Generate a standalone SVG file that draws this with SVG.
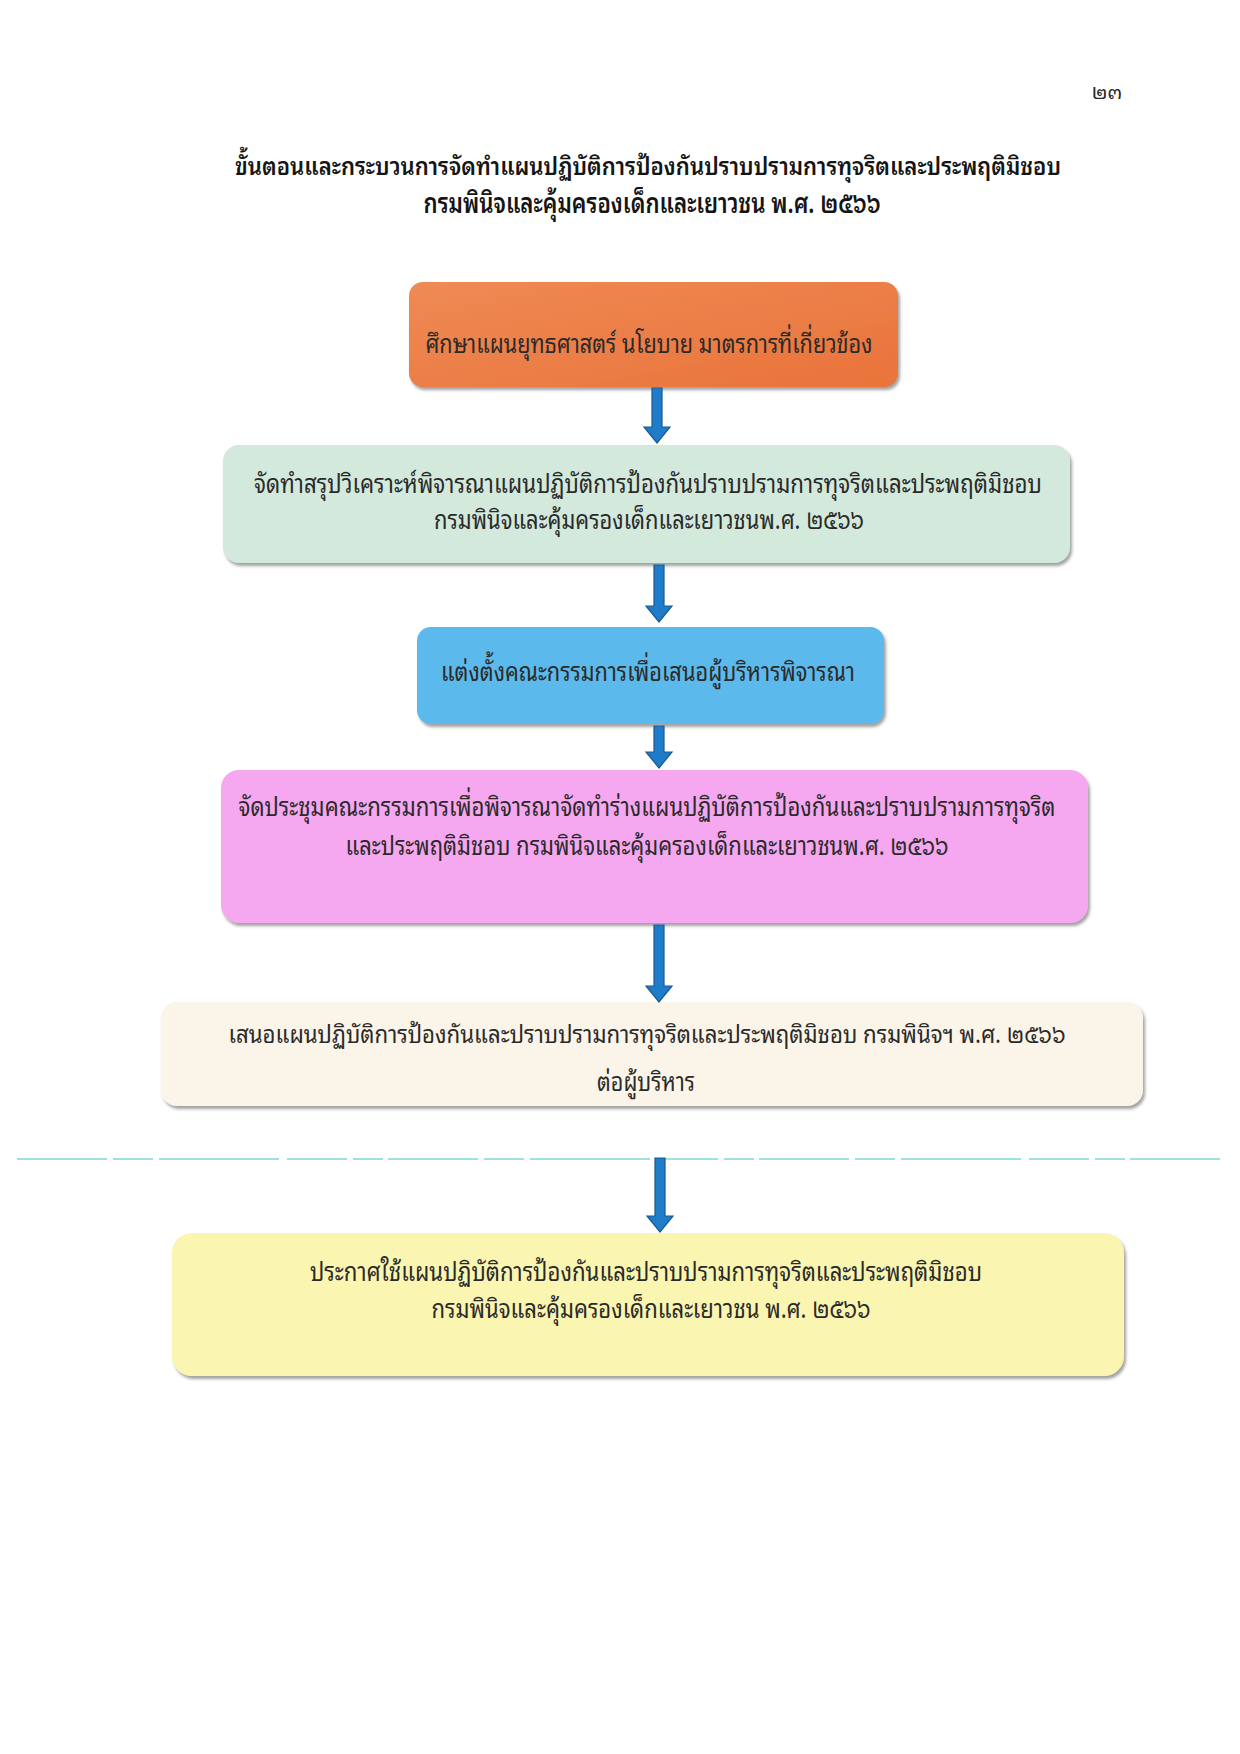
<svg xmlns="http://www.w3.org/2000/svg" width="1240" height="1754" viewBox="0 0 1240 1754">
<defs>
<style>
.t{font-family:"Noto Sans Thai Looped","Loma","Garuda","Tlwg Typo","Noto Sans Thai","Noto Sans","DejaVu Sans",sans-serif;fill:#2a2a2a;text-anchor:middle}
.b{font-size:27px}
.h{font-size:28px;font-weight:600;fill:#151515}
.arrow{fill:#1f7cc9;stroke:#195a94;stroke-width:1.2}
</style>
<filter id="sh" x="-5%" y="-10%" width="110%" height="130%">
<feDropShadow dx="2" dy="3" stdDeviation="1.6" flood-color="#555" flood-opacity="0.55"/>
</filter>
<linearGradient id="gOr" x1="0" y1="0" x2="1" y2="1">
<stop offset="0" stop-color="#ef8a55"/><stop offset="1" stop-color="#e9733a"/>
</linearGradient>
</defs>
<rect width="1240" height="1754" fill="#ffffff"/>
<text class="t" x="1107" y="99" style="font-size:20px">๒๓</text>
<g id="title">
<text class="t" x="648" y="175" style="font-size:25px;font-weight:600;fill:#151515" textLength="826" lengthAdjust="spacingAndGlyphs">ขั้นตอนและกระบวนการจัดทำแผนปฏิบัติการป้องกันปราบปรามการทุจริตและประพฤติมิชอบ</text>
<text class="t h" x="652" y="213" textLength="457" lengthAdjust="spacingAndGlyphs">กรมพินิจและคุ้มครองเด็กและเยาวชน พ.ศ. ๒๕๖๖</text>
</g>
<line x1="17" y1="1159" x2="1221" y2="1159" stroke="#9fe0e4" stroke-width="2" stroke-dasharray="90 6 40 6 120 8 60 6 30 5"/>
<g id="n1">
<rect x="409" y="282" width="489" height="105" rx="14" fill="url(#gOr)" filter="url(#sh)"/>
<text class="t b" x="649" y="353" textLength="447" lengthAdjust="spacingAndGlyphs">ศึกษาแผนยุทธศาสตร์ นโยบาย มาตรการที่เกี่ยวข้อง</text>
</g>
<g id="n2">
<rect x="223" y="445" width="847" height="118" rx="16" fill="#d3e9dc" filter="url(#sh)"/>
<text class="t b" x="648" y="493" textLength="788" lengthAdjust="spacingAndGlyphs">จัดทำสรุปวิเคราะห์พิจารณาแผนปฏิบัติการป้องกันปราบปรามการทุจริตและประพฤติมิชอบ</text>
<text class="t b" x="649" y="529" textLength="430" lengthAdjust="spacingAndGlyphs">กรมพินิจและคุ้มครองเด็กและเยาวชนพ.ศ. ๒๕๖๖</text>
</g>
<g id="n3">
<rect x="417" y="627" width="467" height="97" rx="14" fill="#5cb9eb" filter="url(#sh)"/>
<text class="t b" x="648" y="681" textLength="414" lengthAdjust="spacingAndGlyphs">แต่งตั้งคณะกรรมการเพื่อเสนอผู้บริหารพิจารณา</text>
</g>
<g id="n4">
<rect x="221" y="770" width="867" height="153" rx="18" fill="#f5a8f0" filter="url(#sh)"/>
<text class="t b" x="647" y="816" textLength="817" lengthAdjust="spacingAndGlyphs">จัดประชุมคณะกรรมการเพื่อพิจารณาจัดทำร่างแผนปฏิบัติการป้องกันและปราบปรามการทุจริต</text>
<text class="t b" x="647" y="855" textLength="603" lengthAdjust="spacingAndGlyphs">และประพฤติมิชอบ กรมพินิจและคุ้มครองเด็กและเยาวชนพ.ศ. ๒๕๖๖</text>
</g>
<g id="n5">
<rect x="161" y="1002" width="982" height="104" rx="16" fill="#fbf4e8" filter="url(#sh)"/>
<text class="t" x="647" y="1043" style="font-size:25px" textLength="837" lengthAdjust="spacingAndGlyphs">เสนอแผนปฏิบัติการป้องกันและปราบปรามการทุจริตและประพฤติมิชอบ กรมพินิจฯ พ.ศ. ๒๕๖๖</text>
<text class="t b" x="646" y="1091" textLength="98" lengthAdjust="spacingAndGlyphs">ต่อผู้บริหาร</text>
</g>
<g id="n6">
<rect x="172" y="1233" width="952" height="143" rx="20" fill="#faf5b0" filter="url(#sh)"/>
<text class="t b" x="646" y="1281" textLength="672" lengthAdjust="spacingAndGlyphs">ประกาศใช้แผนปฏิบัติการป้องกันและปราบปรามการทุจริตและประพฤติมิชอบ</text>
<text class="t b" x="651" y="1318" textLength="439" lengthAdjust="spacingAndGlyphs">กรมพินิจและคุ้มครองเด็กและเยาวชน พ.ศ. ๒๕๖๖</text>
</g>
<g id="connectors">
<polygon class="arrow" points="652,388 662,388 662,427 670,427 657,443 644,427 652,427"/>
<polygon class="arrow" points="654,565 664,565 664,606 672,606 659,622 646,606 654,606"/>
<polygon class="arrow" points="654,726 664,726 664,752 672,752 659,768 646,752 654,752"/>
<polygon class="arrow" points="654,925 664,925 664,986 672,986 659,1002 646,986 654,986"/>
<polygon class="arrow" points="655,1158 665,1158 665,1216 673,1216 660,1232 647,1216 655,1216"/>
</g>
</svg>
